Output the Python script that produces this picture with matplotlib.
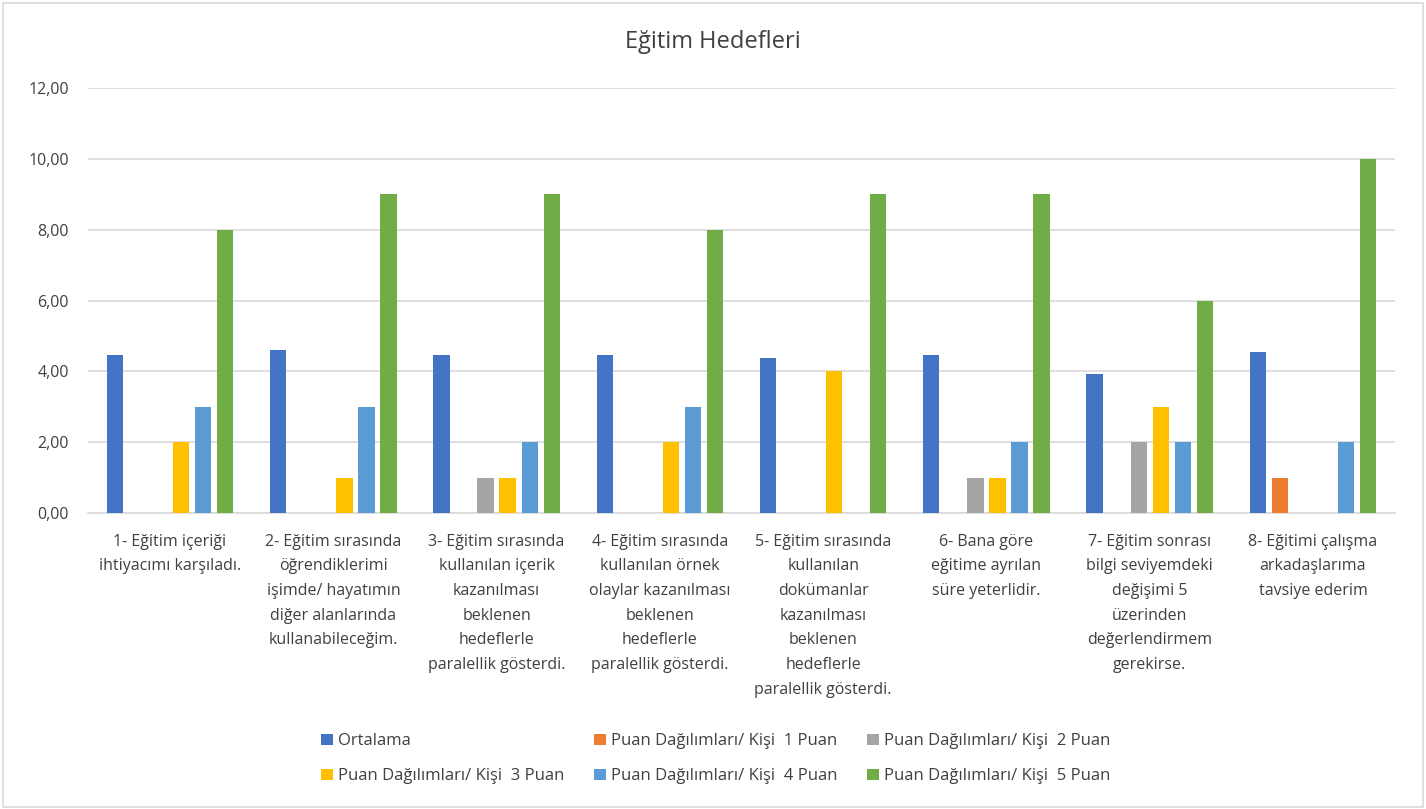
import numpy as np
import matplotlib.pyplot as plt
from matplotlib.ticker import FuncFormatter

plt.rcParams['font.family'] = ['Open Sans', 'DejaVu Sans']

categories = [
    "1- Eğitim içeriği\nihtiyacımı karşıladı.",
    "2- Eğitim sırasında\nöğrendiklerimi\nişimde/ hayatımın\ndiğer alanlarında\nkullanabileceğim.",
    "3- Eğitim sırasında\nkullanılan içerik\nkazanılması\nbeklenen\nhedeflerle\nparalellik gösterdi.",
    "4- Eğitim sırasında\nkullanılan örnek\nolaylar kazanılması\nbeklenen\nhedeflerle\nparalellik gösterdi.",
    "5- Eğitim sırasında\nkullanılan\ndokümanlar\nkazanılması\nbeklenen\nhedeflerle\nparalellik gösterdi.",
    "6- Bana göre\neğitime ayrılan\nsüre yeterlidir.",
    "7- Eğitim sonrası\nbilgi seviyemdeki\ndeğişimi 5\nüzerinden\ndeğerlendirmem\ngerekirse.",
    "8- Eğitimi çalışma\narkadaşlarıma\ntavsiye ederim",
]

ortalama = [4.45, 4.60, 4.45, 4.45, 4.38, 4.45, 3.93, 4.55]
puan1 = [0, 0, 0, 0, 0, 0, 0, 1]
puan2 = [0, 0, 1, 0, 0, 1, 2, 0]
puan3 = [2, 1, 1, 2, 4, 1, 3, 0]
puan4 = [3, 3, 2, 3, 0, 2, 2, 2]
puan5 = [8, 9, 9, 8, 9, 9, 6, 10]

series_names = [
    "Ortalama",
    "Puan Dağılımları/ Kişi  1 Puan",
    "Puan Dağılımları/ Kişi  2 Puan",
    "Puan Dağılımları/ Kişi  3 Puan",
    "Puan Dağılımları/ Kişi  4 Puan",
    "Puan Dağılımları/ Kişi  5 Puan",
]
series = [ortalama, puan1, puan2, puan3, puan4, puan5]
colors = ['#4472C4', '#ED7D31', '#A5A5A5', '#FFC000', '#5B9BD5', '#70AD47']

fig = plt.figure(figsize=(14.26, 8.09), dpi=100)
ax = fig.add_axes([0.062, 0.366, 0.916, 0.525])

x = np.arange(len(categories))
step = 0.135
width = 0.10
handles = []
for i, (vals, name, c) in enumerate(zip(series, series_names, colors)):
    b = ax.bar(x + (i - 2.5) * step, vals, width, color=c, label=name, zorder=3)
    handles.append(b)

ax.set_xlim(-0.5, len(categories) - 0.5)
ax.set_ylim(0, 12)
ax.set_yticks(np.arange(0, 13, 2))
ax.yaxis.set_major_formatter(FuncFormatter(lambda v, p: f"{v:.2f}".replace('.', ',')))
ax.set_xticks(x)
ax.set_xticklabels(categories, fontsize=11.5, color='#404040', linespacing=1.72)
ax.tick_params(axis='both', length=0, labelsize=11.5, colors='#404040')
ax.tick_params(axis='x', pad=15)
ax.tick_params(axis='y', pad=14)
ax.grid(axis='y', color='#D9D9D9', linewidth=1.2, zorder=0)
for s in ['top', 'right', 'left']:
    ax.spines[s].set_visible(False)
ax.spines['bottom'].set_color('#D9D9D9')
ax.spines['bottom'].set_linewidth(1.2)

fig.text(0.5, 0.948, "Eğitim Hedefleri", ha='center', va='center', fontsize=17, color='#404040')

order = [0, 3, 1, 4, 2, 5]
fig.legend([handles[k] for k in order], [series_names[k] for k in order],
           loc='center', bbox_to_anchor=(0.502, 0.062), ncol=3, frameon=False,
           fontsize=12, labelcolor='#404040', handlelength=0.7, handleheight=0.7,
           handletextpad=0.3, columnspacing=1.8, labelspacing=1.15)

fig.patches.append(plt.Rectangle((0.002, 0.002), 0.996, 0.994, transform=fig.transFigure,
                                 fill=False, edgecolor='#D9D9D9', linewidth=1.2))

fig.savefig('out.png', dpi=100)
